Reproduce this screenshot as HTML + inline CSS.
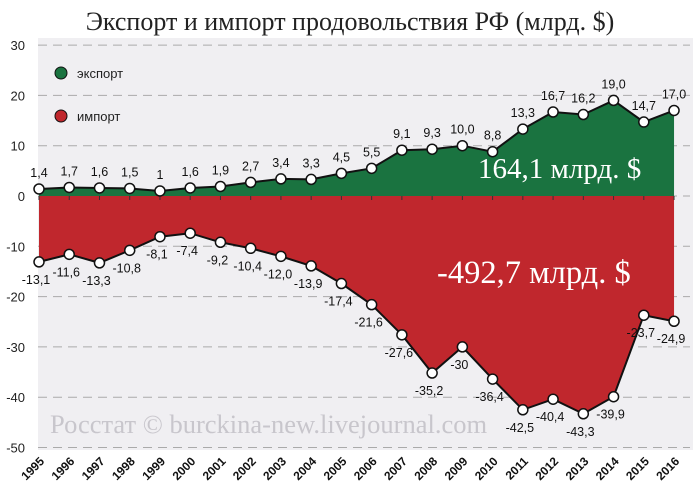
<!DOCTYPE html>
<html><head><meta charset="utf-8"><style>
html,body{margin:0;padding:0;background:#fff;}
svg{display:block;font-family:"Liberation Sans",sans-serif;}
</style></head><body>
<svg id="s" width="700" height="497" xmlns="http://www.w3.org/2000/svg"></svg>
<script>
const ex=[1.4,1.7,1.6,1.5,1,1.6,1.9,2.7,3.4,3.3,4.5,5.5,9.1,9.3,10.0,8.8,13.3,16.7,16.2,19.0,14.7,17.0];
const im=[-13.1,-11.6,-13.3,-10.8,-8.1,-7.4,-9.2,-10.4,-12.0,-13.9,-17.4,-21.6,-27.6,-35.2,-30,-36.4,-42.5,-40.4,-43.3,-39.9,-23.7,-24.9];
const X=i=>39+i*30.24, Y=v=>196-5.03*v;
const f=v=>(v===1||v===-30?String(v):v.toFixed(1)).replace('.',',');
let h='';
h+=`<rect x="38" y="38" width="655" height="412" fill="#f0eff2"/>`;
h+=`<text x="350" y="30" text-anchor="middle" font-family="Liberation Serif,serif" font-size="26" fill="#222">Экспорт и импорт продовольствия РФ (млрд. $)</text>`;
[30,20,10,0,-10,-20,-30,-40,-50].forEach(v=>{
 h+=`<line x1="38" x2="690" y1="${Y(v)}" y2="${Y(v)}" stroke="#aaa" stroke-dasharray="9,6"/>`;
 h+=`<text x="25" y="${Y(v)+5}" text-anchor="end" font-size="13" fill="#222">${v}</text>`;
});
let pe=`M${X(0)},${Y(0)} `+ex.map((v,i)=>`L${X(i)},${Y(v)}`).join(' ')+` L${X(21)},${Y(0)}Z`;
let pi=`M${X(0)},${Y(0)} `+im.map((v,i)=>`L${X(i)},${Y(v)}`).join(' ')+` L${X(21)},${Y(0)}Z`;
h+=`<path d="${pe}" fill="#1a7340"/><path d="${pi}" fill="#c0272d"/>`;
h+=`<polyline points="${ex.map((v,i)=>X(i)+','+Y(v)).join(' ')}" fill="none" stroke="#111" stroke-width="2"/>`;
h+=`<polyline points="${im.map((v,i)=>X(i)+','+Y(v)).join(' ')}" fill="none" stroke="#111" stroke-width="2"/>`;
for(let i=0;i<22;i++){h+=`<line x1="${X(i)}" x2="${X(i)}" y1="196" y2="200" stroke="#333"/>`;}
ex.forEach((v,i)=>{h+=`<circle cx="${X(i)}" cy="${Y(v)}" r="5" fill="#fff" stroke="#111" stroke-width="1.5"/><text x="${X(i)}" y="${Y(v)-12}" text-anchor="middle" font-size="12.5" fill="#111">${f(v)}</text>`;});
im.forEach((v,i)=>{h+=`<circle cx="${X(i)}" cy="${Y(v)}" r="5" fill="#fff" stroke="#111" stroke-width="1.5"/><text x="${X(i)-3}" y="${Y(v)+22}" text-anchor="middle" font-size="12.5" fill="#111">${f(v)}</text>`;});
for(let i=0;i<22;i++){h+=`<text transform="translate(${X(i)+6},${462}) rotate(-45)" text-anchor="end" font-size="12" font-weight="bold" fill="#111">${1995+i}</text>`;}
h+=`<circle cx="61" cy="73" r="6" fill="#1a7340" stroke="#111"/><text x="77" y="78" font-size="13" fill="#222">экспорт</text>`;
h+=`<circle cx="61" cy="116" r="6" fill="#c0272d" stroke="#111"/><text x="77" y="121" font-size="13" fill="#222">импорт</text>`;
h+=`<text x="478" y="178" font-family="Liberation Serif,serif" font-size="29" fill="#fff">164,1 млрд. $</text>`;
h+=`<text x="437" y="283" font-family="Liberation Serif,serif" font-size="32.5" fill="#fff">-492,7 млрд. $</text>`;
h+=`<text x="50" y="433" font-family="Liberation Serif,serif" font-size="26.5" fill="#c8c6cc">Росстат © burckina-new.livejournal.com</text>`;
document.getElementById('s').innerHTML=h;
</script>
</body></html>
